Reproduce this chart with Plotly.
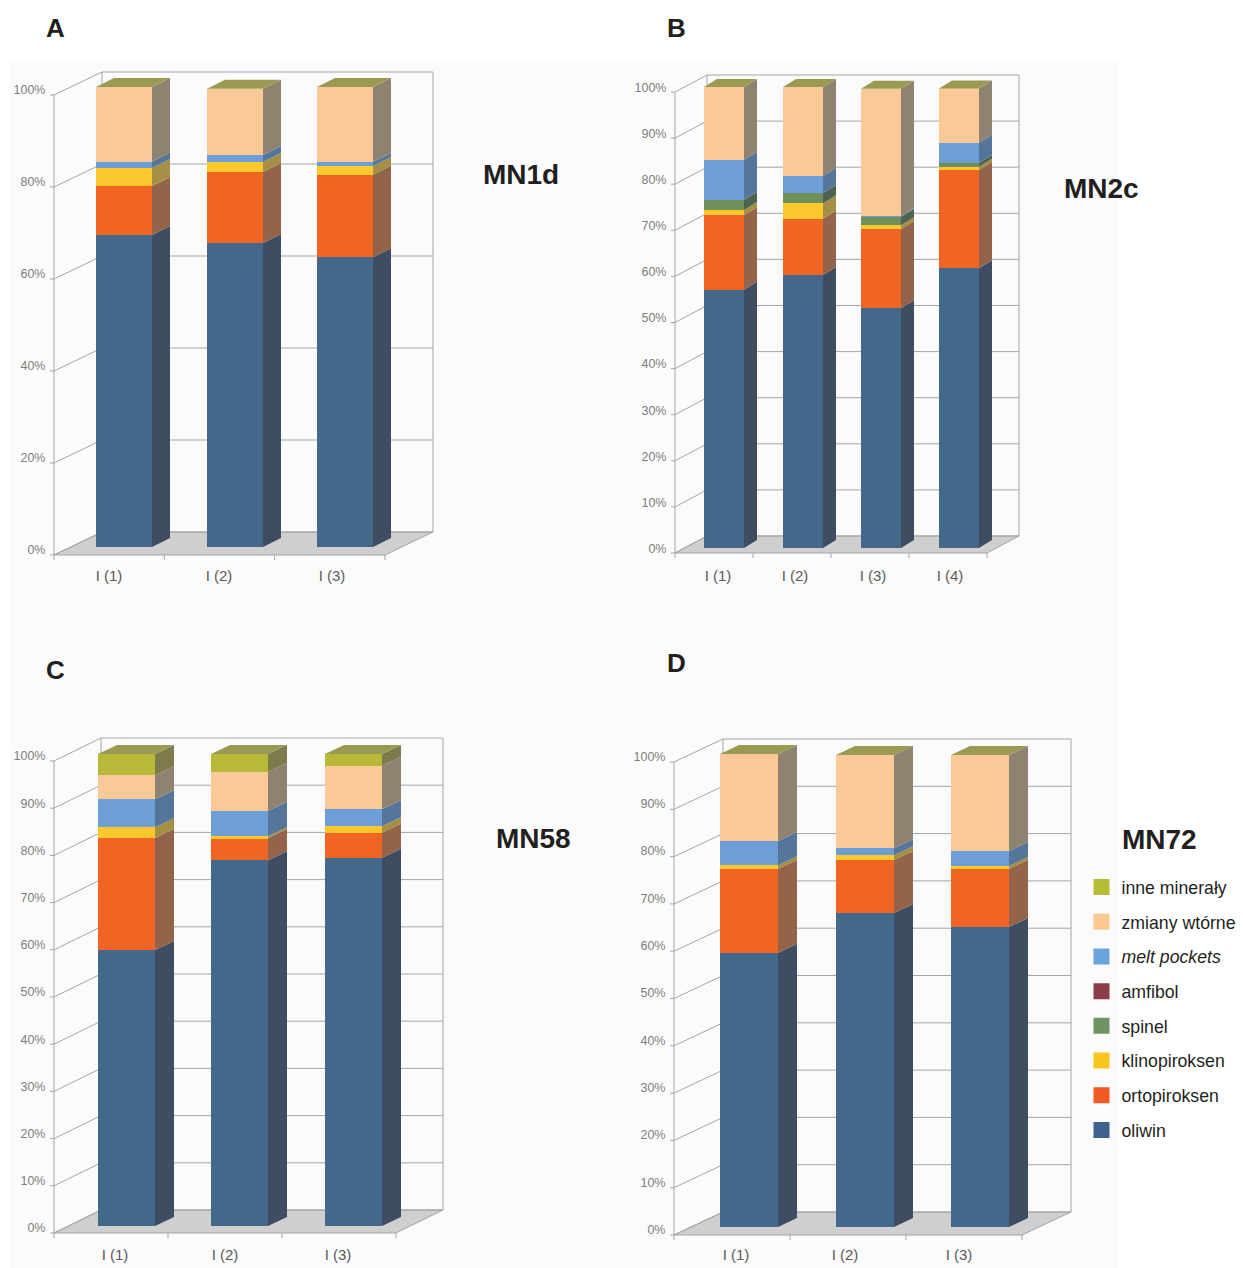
import plotly.graph_objects as go

W_FIG, H_FIG = 1243, 1268

# ---------- data (stack heights in %) ----------
series_names = ["oliwin", "ortopiroksen", "klinopiroksen", "spinel", "amfibol",
                "<i>melt pockets</i>", "zmiany wtórne", "inne minerały"]

A_labels = ["I (1)", "I (2)", "I (3)"]
A_oliwin = [67.8, 66.1, 63.0]
A_orto = [10.7, 15.4, 17.9]
A_klino = [3.9, 2.2, 1.9]
A_spinel = [0, 0, 0]
A_amfibol = [0, 0, 0]
A_melt = [1.4, 1.5, 0.9]
A_zmiany = [16.2, 14.4, 16.3]
A_inne = [0, 0, 0]

B_labels = ["I (1)", "I (2)", "I (3)", "I (4)"]
B_oliwin = [56.0, 59.2, 52.0, 60.7]
B_orto = [16.2, 12.2, 17.2, 21.3]
B_klino = [1.1, 3.4, 0.8, 0.7]
B_spinel = [2.2, 2.2, 1.8, 0.8]
B_amfibol = [0, 0, 0, 0]
B_melt = [8.7, 3.7, 0.2, 4.4]
B_zmiany = [15.8, 19.3, 27.6, 11.8]
B_inne = [0, 0, 0, 0]

C_labels = ["I (1)", "I (2)", "I (3)"]
C_oliwin = [58.5, 77.5, 78.0]
C_orto = [23.7, 4.7, 5.3]
C_klino = [2.3, 0.4, 1.4]
C_spinel = [0, 0, 0]
C_amfibol = [0, 0, 0]
C_melt = [5.9, 5.4, 3.6]
C_zmiany = [5.1, 8.2, 9.2]
C_inne = [4.5, 3.8, 2.5]

D_labels = ["I (1)", "I (2)", "I (3)"]
D_oliwin = [58.0, 66.4, 63.4]
D_orto = [17.7, 11.2, 12.3]
D_klino = [0.8, 1.0, 0.6]
D_spinel = [0, 0, 0]
D_amfibol = [0, 0, 0]
D_melt = [5.1, 1.5, 3.2]
D_zmiany = [18.4, 19.7, 20.3]
D_inne = [0, 0, 0]

y_ticks_A = [0, 20, 40, 60, 80, 100]
y_ticks_10 = [0, 10, 20, 30, 40, 50, 60, 70, 80, 90, 100]

# ---------- styling ----------
front_colors = ["#44688a", "#f06523", "#fcc82d", "#6e8f5a", "#8a3f45", "#6d9fd6", "#fbc897", "#b8b938"]
side_colors = ["#3f4d63", "#93634a", "#a58f45", "#4d6350", "#5e3a3e", "#54769b", "#8f8271", "#7d7b4b"]
legend_colors = ["#3d628f", "#f15a24", "#fbc51f", "#6f9362", "#8a3d45", "#6ba3dc", "#fbc88f", "#b5bd37"]
top_color = "#9a9a52"
line_color = "#a3a5ac"
floor_color = "#cfcfcf"

panels = [
    dict(name="A", labels=A_labels, ticks=y_ticks_A,
         data=[A_oliwin, A_orto, A_klino, A_spinel, A_amfibol, A_melt, A_zmiany, A_inne],
         x0=54, x1=385, yf=555, s=4.6, wdx=48, wdy=-23,
         bar_lefts=[96, 207, 317], bw=56, base=547, bdx=18, bdy=-9,
         label_px=[109, 219, 332], label_dy=2.5, standoff=3),
    dict(name="B", labels=B_labels, ticks=y_ticks_10,
         data=[B_oliwin, B_orto, B_klino, B_spinel, B_amfibol, B_melt, B_zmiany, B_inne],
         x0=675, x1=987, yf=553, s=4.61, wdx=32, wdy=-17,
         bar_lefts=[704, 783, 861, 939], bw=40, base=548, bdx=13, bdy=-8,
         label_px=[718, 795, 873, 950], label_dy=0.5, standoff=5),
    dict(name="C", labels=C_labels, ticks=y_ticks_10,
         data=[C_oliwin, C_orto, C_klino, C_spinel, C_amfibol, C_melt, C_zmiany, C_inne],
         x0=54, x1=396, yf=1233, s=4.72, wdx=47, wdy=-23,
         bar_lefts=[98, 211, 325], bw=57, base=1226, bdx=19, bdy=-9,
         label_px=[115, 225, 338], label_dy=2, standoff=4),
    dict(name="D", labels=D_labels, ticks=y_ticks_10,
         data=[D_oliwin, D_orto, D_klino, D_spinel, D_amfibol, D_melt, D_zmiany, D_inne],
         x0=674, x1=1022, yf=1235, s=4.73, wdx=49, wdy=-23,
         bar_lefts=[720, 836, 951], bw=58, base=1227, bdx=19, bdy=-9,
         label_px=[736, 845, 959], label_dy=2.5, standoff=2),
]

fig = go.Figure()
shapes = [dict(type="rect", xref="paper", yref="paper", x0=10 / W_FIG, x1=1118 / W_FIG,
               y0=0, y1=1 - 60 / H_FIG, fillcolor="#fbfbfb", line_width=0, layer="below")]
layout_axes = {}

for idx, p in enumerate(panels):
    n = idx + 1
    xa, ya = f"x{n}" if n > 1 else "x", f"y{n}" if n > 1 else "y"
    s = p["s"]
    cat_w = (p["x1"] - p["x0"]) / len(p["labels"])

    def ux(px, p=p, cat_w=cat_w):
        return (px - p["x0"]) / cat_w - 0.5

    def uy(py, p=p, s=s):
        return (p["base"] - py) / s

    L, R = p["x0"] - 4, p["x1"] + p["wdx"] + 3
    B = p["yf"] + 7
    T = p["yf"] - 100 * s + p["wdy"] - 3

    layout_axes["xaxis" if n == 1 else f"xaxis{n}"] = dict(
        domain=[L / W_FIG, R / W_FIG], range=[ux(L), ux(R)], anchor=ya,
        showgrid=False, zeroline=False, showline=False,
        tickmode="array", tickvals=[ux(v) for v in p["label_px"]], ticktext=p["labels"],
        ticks="", ticklabelstandoff=p["standoff"],
        tickfont=dict(family="Liberation Sans", size=15, color="#5a5a5a"))
    layout_axes["yaxis" if n == 1 else f"yaxis{n}"] = dict(
        domain=[1 - B / H_FIG, 1 - T / H_FIG], range=[uy(B), uy(T)], anchor=xa,
        showgrid=False, zeroline=False, showline=False,
        tickmode="array", tickvals=[t - p["label_dy"] / s for t in p["ticks"]],
        ticktext=[f"{t}%" for t in p["ticks"]],
        ticks="outside", ticklen=1, tickcolor="rgba(0,0,0,0)",
        tickfont=dict(family="Liberation Sans", size=12.5, color="#7d7d7d"))

    def add_shape(kind, x0, y0, x1, y1, **kw):
        shapes.append(dict(type=kind, xref=xa, yref=ya, x0=ux(x0), x1=ux(x1),
                           y0=uy(y0), y1=uy(y1), layer="below",
                           line=dict(color=line_color, width=1), **kw))

    # floor
    yf, dx, dy = p["yf"], p["wdx"], p["wdy"]
    ytop = yf - 100 * s
    path = (f"M{ux(p['x0'])},{uy(yf)} L{ux(p['x1'])},{uy(yf)} "
            f"L{ux(p['x1'] + dx)},{uy(yf + dy)} L{ux(p['x0'] + dx)},{uy(yf + dy)} Z")
    shapes.append(dict(type="path", xref=xa, yref=ya, path=path, layer="below",
                       fillcolor=floor_color, line=dict(color=line_color, width=1)))
    # walls
    add_shape("line", p["x0"], yf, p["x0"], ytop)
    add_shape("line", p["x0"] + dx, yf + dy, p["x0"] + dx, ytop + dy)
    add_shape("line", p["x1"] + dx, yf + dy, p["x1"] + dx, ytop + dy)
    for t in p["ticks"]:
        py = yf - t * s
        add_shape("line", p["x0"], py, p["x0"] + dx, py + dy)
        add_shape("line", p["x0"] + dx, py + dy, p["x1"] + dx, py + dy)
        add_shape("line", p["x0"] - 4, py, p["x0"], py)
    for i in range(len(p["labels"]) + 1):
        px = p["x0"] + i * cat_w
        add_shape("line", px, yf, px, yf + 5)

    # bars: front faces and side faces
    centers = [ux(l + p["bw"] / 2) for l in p["bar_lefts"]]
    bwidth = p["bw"] / cat_w
    bdx_u, bdy_u = p["bdx"] / cat_w, -p["bdy"] / s
    bases = [0.0] * len(centers)
    for k, vals in enumerate(p["data"]):
        fig.add_trace(go.Bar(x=centers, y=vals, width=bwidth, marker=dict(color=front_colors[k], line_width=0),
                             xaxis=xa, yaxis=ya, showlegend=False, hoverinfo="skip", name=series_names[k]))
        sx, sy = [], []
        for c, b, v in zip(centers, bases, vals):
            if v > 0:
                xr = c + bwidth / 2
                sx += [xr, xr + bdx_u, xr + bdx_u, xr, xr, None]
                sy += [b, b + bdy_u, b + v + bdy_u, b + v, b, None]
        if sx:
            fig.add_trace(go.Scatter(x=sx, y=sy, mode="lines", fill="toself", fillcolor=side_colors[k],
                                     line=dict(width=0), xaxis=xa, yaxis=ya, showlegend=False,
                                     hoverinfo="skip"))
        bases = [b + v for b, v in zip(bases, vals)]
    # top faces
    tx, ty = [], []
    for c, b in zip(centers, bases):
        xl, xr = c - bwidth / 2, c + bwidth / 2
        tx += [xl, xr, xr + bdx_u, xl + bdx_u, xl, None]
        ty += [b, b, b + bdy_u, b + bdy_u, b, None]
    fig.add_trace(go.Scatter(x=tx, y=ty, mode="lines", fill="toself", fillcolor=top_color,
                             line=dict(width=0), xaxis=xa, yaxis=ya, showlegend=False, hoverinfo="skip"))

# legend entries, top to bottom: inne minerały ... oliwin
for k in reversed(range(len(series_names))):
    name = series_names[k]
    fig.add_trace(go.Scatter(x=[None], y=[None], mode="markers", name=name, legendgroup=name,
                             marker=dict(symbol="square", size=16, color=legend_colors[k]), xaxis="x4", yaxis="y4"))

# panel letters and sample titles
notes = [("A", 44, 28, 26), ("B", 665, 28, 26), ("C", 44, 670, 26), ("D", 665, 663, 26),
         ("MN1d", 481, 174, 28), ("MN2c", 1062, 189, 28), ("MN58", 494, 838, 28), ("MN72", 1120, 839, 28)]
annotations = [dict(text=f"<b>{t}</b>", xref="paper", yref="paper", x=x / W_FIG, y=1 - y / H_FIG,
                    xanchor="left", yanchor="middle", showarrow=False,
                    font=dict(family="Liberation Sans", size=sz, color="#231f20"))
               for t, x, y, sz in notes]

fig.update_layout(
    width=W_FIG, height=H_FIG, margin=dict(l=0, r=0, t=0, b=0), autosize=False,
    paper_bgcolor="white", plot_bgcolor="rgba(0,0,0,0)", barmode="stack",
    shapes=shapes, annotations=annotations,
    legend=dict(x=1081.5 / W_FIG, y=1 - 869 / H_FIG,
                xanchor="left", yanchor="top",
                traceorder="grouped", tracegroupgap=8.7, bgcolor="rgba(0,0,0,0)",
                itemclick=False, itemdoubleclick=False,
                font=dict(family="Liberation Sans", size=17.7, color="#231f20")),
    **layout_axes)

fig.write_html("out.html", config={"displayModeBar": False},
               post_script="document.body.style.margin='0';")
